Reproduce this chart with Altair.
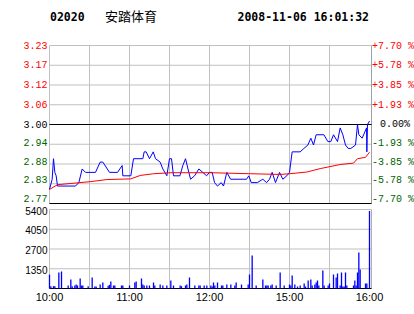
import altair as alt
import pandas as pd

# ---------------- header text ----------------
CODE = "02020"
NAME = "安踏体育"
STAMP = "2008-11-06 16:01:32"

# ---------------- axis definitions ----------------
PREV_CLOSE = 3.00
PCT_STEPS = [7.70, 5.775, 3.85, 1.925, 0.0, -1.925, -3.85, -5.775, -7.70]
PRICE_LABELS = ["3.23", "3.17", "3.12", "3.06", "3.00", "2.94", "2.88", "2.83", "2.77"]
PCT_LABELS = ["+7.70 %", "+5.78 %", "+3.85 %", "+1.93 %", "0.00%",
              "-1.93 %", "-3.85 %", "-5.78 %", "-7.70 %"]
VOL_TICKS = [1350, 2700, 4050, 5400]
VOL_LABELS = ["1350", "2700", "4050", "5400"]
TIME_TICKS = [0, 60, 120, 180, 240]
TIME_LABELS = ["10:00", "11:00", "12:00", "15:00", "16:00"]
GRID_MIN = [0, 30, 60, 90, 120, 150, 180, 210]
X_END = 241.5

# ---------------- price series (minutes after 10:00, trading time) ----------------
PRICE_MIN = [0, 2, 3, 4, 5, 6, 19.5, 22, 24.5, 27, 34.5, 38, 40, 45, 51, 54.5, 55, 61,
             63, 70, 71, 72.5, 75, 77.8, 79.5, 83, 85, 88, 90, 91.5, 93, 97.8, 100, 102,
             104.5, 105.8, 108.8, 112, 115, 117.8, 120, 122, 123.8, 126, 128.8, 130.5,
             133, 135.8, 147.8, 149.5, 151.3, 155.8, 160, 162.8, 165, 167, 169.5, 172.5,
             175, 178, 180, 182, 188, 190.8, 193.8, 196, 198, 200, 205.8, 208.8, 211,
             213, 216, 218, 220, 222, 224, 226, 229.5, 231, 232, 234.5, 237.8, 238,
             238.5, 240]
PRICE_VAL = [2.81, 2.84, 2.90, 2.86, 2.85, 2.82, 2.82, 2.83, 2.87, 2.86, 2.86, 2.89, 2.89,
             2.86, 2.86, 2.88, 2.85, 2.85, 2.90, 2.90, 2.92, 2.92, 2.90, 2.92, 2.90, 2.89,
             2.87, 2.85, 2.90, 2.90, 2.85, 2.85, 2.88, 2.90, 2.86, 2.84, 2.85, 2.87, 2.86,
             2.85, 2.86, 2.86, 2.83, 2.82, 2.83, 2.82, 2.86, 2.84, 2.84, 2.85, 2.83, 2.83,
             2.84, 2.83, 2.84, 2.86, 2.83, 2.86, 2.84, 2.85, 2.86, 2.92, 2.92, 2.93, 2.94,
             2.96, 2.94, 2.97, 2.97, 2.95, 2.95, 2.97, 2.95, 2.99, 2.97, 2.94, 2.93, 2.93,
             2.94, 3.00, 2.97, 2.96, 2.99, 2.92, 3.00, 3.01]

AVG_MIN = [0, 6, 31, 43, 61, 68, 78, 91, 121, 151, 173, 180, 193, 203, 218, 228, 231, 237, 240]
AVG_VAL = [2.81, 2.824, 2.833, 2.839, 2.841, 2.851, 2.856, 2.859, 2.859, 2.856, 2.854,
           2.856, 2.861, 2.871, 2.883, 2.887, 2.90, 2.904, 2.919]

# ---------------- volume series ----------------
VOL_MIN = [0, 1, 3, 4, 7, 9, 14, 16, 17, 19, 20, 21, 23, 24, 25, 29, 32, 34, 35, 38, 40,
           44, 45, 46, 48, 49, 54, 55, 60, 64, 65, 69, 70, 71, 73, 75, 78, 79, 83, 85, 88,
           91, 93, 98, 99, 102, 103, 105, 109, 112, 113, 116, 118, 121, 122, 123, 124,
           126, 129, 130, 133, 136, 139, 140, 144, 149, 150, 152, 155, 160, 162, 163,
           164, 166, 167, 170, 173, 176, 180, 181, 182, 184, 186, 188, 191, 192, 194,
           196, 197, 199, 200, 201, 202, 205, 206, 209, 210, 213, 215, 216, 218, 219,
           220, 221, 222, 223, 228, 229, 230, 231, 232, 233, 237, 238, 240]
VOL_VAL = [950, 160, 160, 160, 1094, 1162, 205, 615, 160, 205, 273, 205, 683, 205, 205,
           160, 752, 137, 137, 273, 410, 182, 250, 478, 205, 205, 205, 205, 205, 410, 478,
           683, 273, 205, 205, 205, 410, 205, 273, 205, 205, 547, 205, 205, 160, 205, 273,
           752, 205, 205, 205, 205, 205, 205, 137, 410, 205, 410, 205, 205, 273, 273, 205,
           410, 273, 273, 957, 2255, 205, 615, 205, 205, 205, 205, 273, 205, 1094, 205,
           273, 205, 889, 273, 137, 205, 342, 137, 547, 615, 205, 273, 410, 547, 205,
           1230, 205, 205, 342, 957, 752, 1025, 205, 1094, 137, 137, 1094, 205, 205, 547,
           205, 1094, 2460, 1300, 342, 342, 5300]

# ---------------- styling ----------------
W, H = 322, 243
RED, GREEN, BLACK, BLUE = "#ff0000", "#006400", "#000000", "#0000ff"
GRID = "#c0c0c0"

xs = alt.Scale(domain=[0, X_END], range=[0, W], nice=False, zero=False)
ps = alt.Scale(domain=[2.769, 3.231], range=[158, 0], nice=False, zero=False)
vs = alt.Scale(domain=[0, 5400], range=[243, 164], nice=False, zero=False)


def col(v):
    if v > PREV_CLOSE + 1e-9:
        return RED
    if v < PREV_CLOSE - 1e-9:
        return GREEN
    return BLACK


tick_vals = [round(PREV_CLOSE * (1 + p / 100), 5) for p in PCT_STEPS]
ptick_df = pd.DataFrame({"value": tick_vals, "left": PRICE_LABELS, "right": PCT_LABELS,
                         "c": [col(v) for v in tick_vals]})
vtick_df = pd.DataFrame({"value": [0] + VOL_TICKS})
vlab_df = pd.DataFrame({"value": VOL_TICKS, "label": VOL_LABELS})
time_df = pd.DataFrame({"m": TIME_TICKS, "label": TIME_LABELS})
grid_df = pd.DataFrame({"m": GRID_MIN})
border_df = pd.DataFrame({"m": [X_END]})
price_df = pd.DataFrame({"m": PRICE_MIN, "p": PRICE_VAL})
avg_df = pd.DataFrame({"m": AVG_MIN, "p": AVG_VAL})
vol_df = pd.DataFrame({"m": VOL_MIN, "v": VOL_VAL})
one = pd.DataFrame({"k": [0]})

X0 = alt.XDatum(0, scale=xs, axis=None)
X1 = alt.X2Datum(X_END)

p_hgrid = alt.Chart(ptick_df).mark_rule(color=GRID, strokeWidth=1).encode(
    y=alt.Y("value:Q", scale=ps, axis=None), x=X0, x2=X1)
v_hgrid = alt.Chart(vtick_df).mark_rule(color=GRID, strokeWidth=1).encode(
    y=alt.Y("value:Q", scale=vs, axis=None), x=X0, x2=X1)
p_vgrid = alt.Chart(grid_df).mark_rule(color=GRID, strokeWidth=1).encode(
    x=alt.X("m:Q", scale=xs, axis=None),
    y=alt.YDatum(2.769, scale=ps, axis=None), y2=alt.Y2Datum(3.231))
v_vgrid = alt.Chart(grid_df).mark_rule(color=GRID, strokeWidth=1).encode(
    x=alt.X("m:Q", scale=xs, axis=None),
    y=alt.YDatum(0, scale=vs, axis=None), y2=alt.Y2Datum(5400))
p_border = alt.Chart(border_df).mark_rule(color="#a0a0a0", strokeWidth=1).encode(
    x=alt.X("m:Q", scale=xs, axis=None),
    y=alt.YDatum(2.769, scale=ps, axis=None), y2=alt.Y2Datum(3.231))
v_border = alt.Chart(border_df).mark_rule(color="#b0b0b0", strokeWidth=1).encode(
    x=alt.X("m:Q", scale=xs, axis=None),
    y=alt.YDatum(0, scale=vs, axis=None), y2=alt.Y2Datum(5400))

close_line = alt.Chart(pd.DataFrame({"value": [PREV_CLOSE, 2.769]})).mark_rule(
    color=BLACK, strokeWidth=1).encode(
    y=alt.Y("value:Q", scale=ps, axis=None), x=X0, x2=X1)
vol_base = alt.Chart(pd.DataFrame({"value": [0]})).mark_rule(
    color=BLACK, strokeWidth=1).encode(
    y=alt.Y("value:Q", scale=vs, axis=None), x=X0, x2=X1)

bars = alt.Chart(vol_df).mark_rule(color=BLUE, strokeWidth=1.3).encode(
    x=alt.X("m:Q", scale=xs, axis=None),
    y=alt.Y("v:Q", scale=vs, axis=None), y2=alt.Y2Datum(0))

price_line = alt.Chart(price_df).mark_line(color=BLUE, strokeWidth=1, interpolate="linear").encode(
    x=alt.X("m:Q", scale=xs, axis=None), y=alt.Y("p:Q", scale=ps, axis=None))
avg_line = alt.Chart(avg_df).mark_line(color=RED, strokeWidth=1, interpolate="linear").encode(
    x=alt.X("m:Q", scale=xs, axis=None), y=alt.Y("p:Q", scale=ps, axis=None))

SHIFT = "datum.value < 3 ? datum.value + (3 - datum.value) * 0.063 : datum.value"

left_lab = alt.Chart(ptick_df).transform_calculate(ly=SHIFT).mark_text(
    align="right", baseline="middle", font="Liberation Mono", fontSize=10).encode(
    y=alt.Y("ly:Q", scale=ps, axis=None), x=alt.value(-2),
    text="left:N", color=alt.Color("c:N", scale=None))
right_lab = alt.Chart(ptick_df).transform_filter("datum.value != 3").transform_calculate(
    ly=SHIFT).mark_text(
    align="left", baseline="middle", font="Liberation Mono", fontSize=10).encode(
    y=alt.Y("ly:Q", scale=ps, axis=None), x=alt.value(W + 0.5),
    text="right:N", color=alt.Color("c:N", scale=None))
right_zero = alt.Chart(ptick_df).transform_filter("datum.value == 3").mark_text(
    align="left", baseline="middle", font="Liberation Mono", fontSize=10, dx=8, dy=-1).encode(
    y=alt.Y("value:Q", scale=ps, axis=None), x=alt.value(W + 0.5),
    text="right:N", color=alt.Color("c:N", scale=None))
vol_lab = alt.Chart(vlab_df).mark_text(align="right", baseline="middle", dy=2,
                                       font="Liberation Sans", fontSize=10, color=BLACK).encode(
    y=alt.Y("value:Q", scale=vs, axis=None), x=alt.value(-2), text="label:N")
time_lab = alt.Chart(time_df).mark_text(align="center", baseline="middle",
                                        font="Liberation Sans", fontSize=11, color=BLACK).encode(
    x=alt.X("m:Q", scale=xs, axis=None), y=alt.value(H + 9.5), text="label:N")

h_code = alt.Chart(one).mark_text(text=CODE, align="left", baseline="alphabetic",
                                  font="DejaVu Sans Mono", fontWeight="bold", fontSize=11.5,
                                  color=BLACK).encode(x=alt.value(0.5), y=alt.value(-24.5))
h_name = alt.Chart(one).mark_text(text=NAME, align="left", baseline="alphabetic",
                                  font="Noto Sans CJK SC", fontSize=13,
                                  color=BLACK).encode(x=alt.value(55.5), y=alt.value(-24.5))
h_time = alt.Chart(one).mark_text(text=STAMP, align="left", baseline="alphabetic",
                                  font="DejaVu Sans Mono", fontWeight="bold", fontSize=11.5,
                                  color=BLACK).encode(x=alt.value(188), y=alt.value(-24.5))

chart = alt.layer(
    p_hgrid, v_hgrid, p_vgrid, v_vgrid, p_border, v_border,
    close_line, vol_base, bars, price_line, avg_line,
    left_lab, right_lab, right_zero, vol_lab, time_lab, h_code, h_name, h_time,
).resolve_scale(y="independent").properties(
    width=W, height=H,
    autosize=alt.AutoSizeParams(type="none"),
    padding={"left": 49.5, "top": 45.5, "right": 42.5, "bottom": 25.5},
    background="#ffffff",
).configure_view(stroke=None)

chart.save("out.html", embed_options={"renderer": "svg", "actions": False})
